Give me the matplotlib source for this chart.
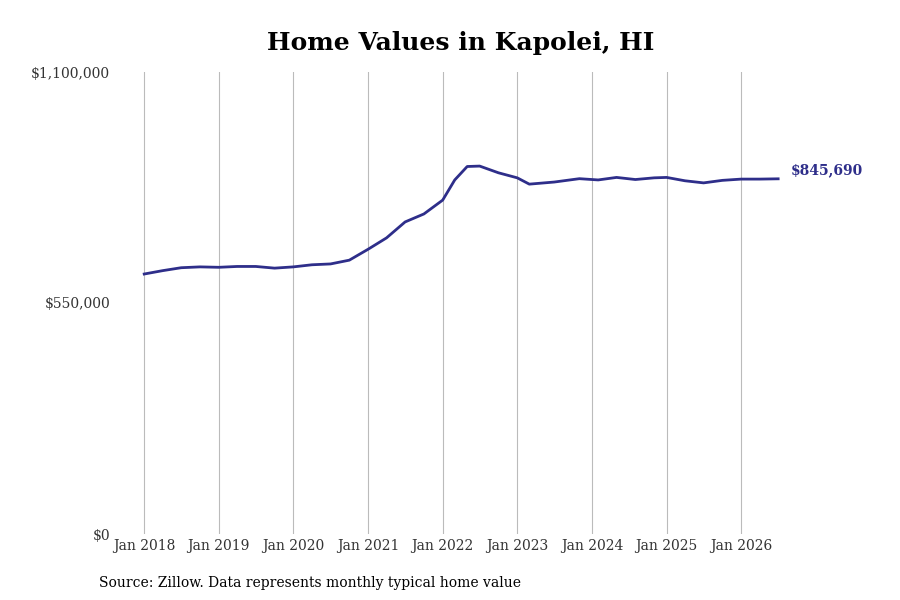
import matplotlib.pyplot as plt
import pandas as pd

dates = ["2018-01", "2018-04", "2018-07", "2018-10", "2019-01", "2019-04", "2019-07", "2019-10",
         "2020-01", "2020-04", "2020-07", "2020-10", "2021-01", "2021-04", "2021-07", "2021-10",
         "2022-01", "2022-03", "2022-05", "2022-07", "2022-10", "2023-01", "2023-03", "2023-07",
         "2023-11", "2024-02", "2024-05", "2024-08", "2024-11", "2025-01", "2025-04", "2025-07",
         "2025-10", "2026-01", "2026-04", "2026-07"]
values = [619000, 627000, 634000, 636000, 635000, 637000, 637000, 633000,
          636000, 641000, 643000, 652000, 678000, 705000, 743000, 762000,
          795000, 843000, 875000, 876000, 860000, 848000, 833000, 838000,
          846000, 843000, 849000, 844000, 848000, 849000, 841000, 836000,
          842000, 845000, 845000, 845690]
xticks = ["2018-01", "2019-01", "2020-01", "2021-01", "2022-01", "2023-01", "2024-01", "2025-01", "2026-01"]
xlabels = ["Jan 2018", "Jan 2019", "Jan 2020", "Jan 2021", "Jan 2022", "Jan 2023", "Jan 2024", "Jan 2025", "Jan 2026"]

plt.rcParams["font.family"] = ["DejaVu Serif"]
color = "#2e2e8a"

fig = plt.figure(figsize=(9, 6), dpi=100)
ax = fig.add_axes([0.128, 0.11, 0.75, 0.77])
x = pd.to_datetime(dates)
ax.plot(x, values, color=color, linewidth=2)
ax.set_ylim(0, 1100000)
ax.set_xlim(pd.Timestamp("2017-08-12"), pd.Timestamp("2026-08-29"))
ax.set_yticks([0, 550000, 1100000])
ax.set_yticklabels(["$0", "$550,000", "$1,100,000"], fontsize=10, color="#333333")
ax.set_xticks(pd.to_datetime(xticks))
ax.set_xticklabels(xlabels, fontsize=10, color="#333333")
ax.grid(axis="x", color="#bbbbbb", linewidth=0.8)
ax.tick_params(length=0)
for s in ax.spines.values():
    s.set_visible(False)
ax.text(x[-1] + pd.Timedelta(days=60), values[-1] + 20000, f"${values[-1]:,}", color=color,
        fontsize=10, fontweight="bold", va="center", ha="left")
fig.text(0.512, 0.928, "Home Values in Kapolei, HI", ha="center", va="center",
         fontsize=18, fontweight="bold")
fig.text(0.11, 0.022, "Source: Zillow. Data represents monthly typical home value", fontsize=10)
fig.savefig("out.png")
